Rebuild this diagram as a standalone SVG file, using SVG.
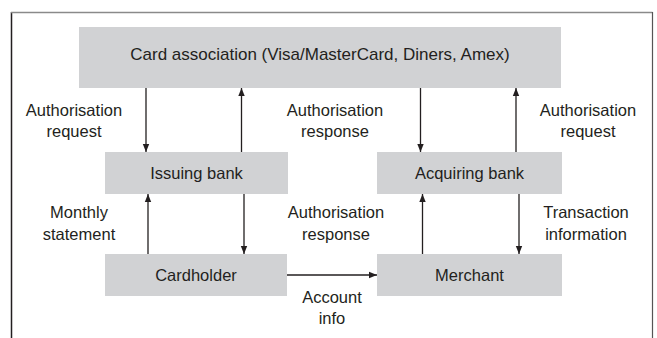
<svg xmlns="http://www.w3.org/2000/svg" width="657" height="338" viewBox="0 0 657 338">
<defs>
<marker id="ah" viewBox="0 0 10 10" refX="10" refY="5" markerWidth="8" markerHeight="8" markerUnits="userSpaceOnUse" orient="auto">
<path d="M0,1 L10,5 L0,9 z" fill="#231f20"/>
</marker>
</defs>
<style>
.box{fill:#d1d2d4;}
.t{font-family:"Liberation Sans",Arial,sans-serif;font-size:16.5px;fill:#231f20;text-anchor:middle;}
.c{stroke:#231f20;stroke-width:1.3;fill:none;marker-end:url(#ah);}
</style>
<rect width="657" height="338" fill="#ffffff"/>
<g id="frame">
<line x1="11.5" y1="338" x2="11.5" y2="12" stroke="#231f20" stroke-width="1.5"/>
<line x1="11" y1="12.5" x2="652.5" y2="12.5" stroke="#8a8a8a" stroke-width="1.5"/>
<line x1="652.5" y1="12" x2="652.5" y2="338" stroke="#555555" stroke-width="1.2"/>
</g>
<g id="card-association">
<rect class="box" x="79" y="27" width="482" height="61"/>
<text class="t" x="320" y="60" style="font-size:17px">Card association (Visa/MasterCard, Diners, Amex)</text>
</g>
<g id="issuing-bank">
<rect class="box" x="105" y="152" width="183" height="42"/>
<text class="t" x="196.5" y="179">Issuing bank</text>
</g>
<g id="acquiring-bank">
<rect class="box" x="377" y="152" width="185" height="42"/>
<text class="t" x="469.5" y="179">Acquiring bank</text>
</g>
<g id="cardholder">
<rect class="box" x="105" y="254" width="182" height="42"/>
<text class="t" x="196" y="281">Cardholder</text>
</g>
<g id="merchant">
<rect class="box" x="377" y="254" width="185" height="42"/>
<text class="t" x="469.5" y="281">Merchant</text>
</g>
<g id="connectors">
<line class="c" x1="146" y1="88" x2="146" y2="152"/>
<line class="c" x1="241.5" y1="152" x2="241.5" y2="88"/>
<line class="c" x1="420.5" y1="88" x2="420.5" y2="152"/>
<line class="c" x1="516" y1="152" x2="516" y2="88"/>
<line class="c" x1="148" y1="254" x2="148" y2="194"/>
<line class="c" x1="244" y1="194" x2="244" y2="254"/>
<line class="c" x1="422.5" y1="254" x2="422.5" y2="194"/>
<line class="c" x1="519" y1="194" x2="519" y2="254"/>
<line class="c" x1="287" y1="275" x2="377" y2="275"/>
</g>
<g id="labels">
<text class="t" x="74" y="116">Authorisation</text>
<text class="t" x="74" y="137">request</text>
<text class="t" x="335" y="116">Authorisation</text>
<text class="t" x="335" y="137">response</text>
<text class="t" x="588" y="116">Authorisation</text>
<text class="t" x="588" y="137">request</text>
<text class="t" x="79" y="218">Monthly</text>
<text class="t" x="79" y="240">statement</text>
<text class="t" x="336" y="218">Authorisation</text>
<text class="t" x="336" y="240">response</text>
<text class="t" x="586" y="218">Transaction</text>
<text class="t" x="586" y="240">information</text>
<text class="t" x="332" y="303">Account</text>
<text class="t" x="332" y="324">info</text>
</g>
</svg>
